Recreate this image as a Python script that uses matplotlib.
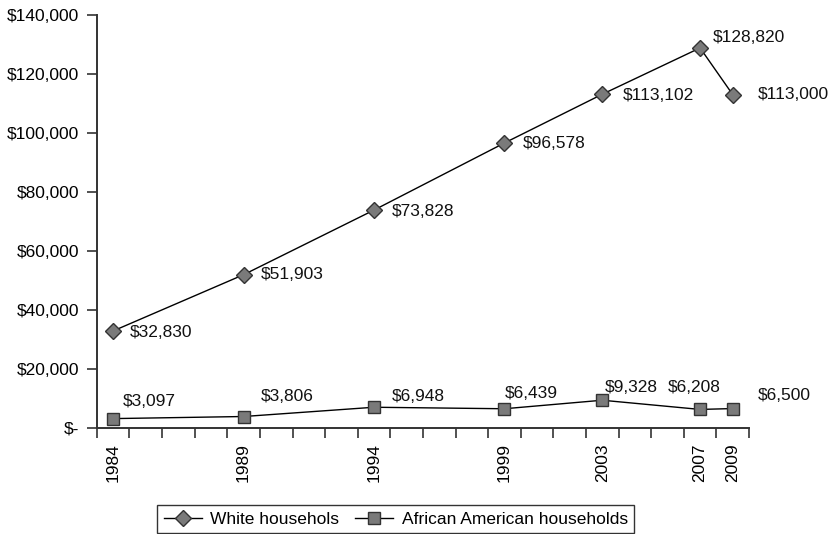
import numpy as np
import matplotlib
matplotlib.use("Agg")
import matplotlib.pyplot as plt
from matplotlib.ticker import FuncFormatter

# category axis (Excel style): blank categories between the survey years
categories = ["1984", "", "", "", "1989", "", "", "", "1994", "", "", "",
              "1999", "", "", "2003", "", "", "2007", "2009"]
years = ["1984", "1989", "1994", "1999", "2003", "2007", "2009"]
white = [32830, 51903, 73828, 96578, 113102, 128820, 113000]
black = [3097, 3806, 6948, 6439, 9328, 6208, 6500]
white_labels = ["$32,830", "$51,903", "$73,828", "$96,578", "$113,102", "$128,820", "$113,000"]
black_labels = ["$3,097", "$3,806", "$6,948", "$6,439", "$9,328", "$6,208", "$6,500"]

# label offsets in pixels (left edge of text, vertical centre; + = up)
white_off = [(17, -2), (17, 0), (18, -1), (18, -1), (21, -1), (13, 10), (25, 0)]
black_off = [(10, 17), (17, 20), (18, 11), (0, 15), (3, 13), (-32, 22), (25, 13)]

plt.rcParams["font.family"] = ["Liberation Sans", "DejaVu Sans"]
FS = 12.5

fig = plt.figure(figsize=(8.35, 5.34), dpi=100)
ax = fig.add_axes([0.116, 0.199, 0.781, 0.773])

x = np.array([categories.index(y) for y in years])

ax.plot(x, white, color="black", lw=1.0, marker="D", markersize=8,
        markerfacecolor="#7a7a7a", markeredgecolor="#333333", markeredgewidth=1.0,
        label="White househols")
ax.plot(x, black, color="black", lw=1.0, marker="s", markersize=8.5,
        markerfacecolor="#7a7a7a", markeredgecolor="#333333", markeredgewidth=1.0,
        label="African American households")

for xi, v, t, (dx, dy) in zip(x, white, white_labels, white_off):
    ax.annotate(t, (xi, v), xytext=(dx, dy), textcoords="offset pixels",
                ha="left", va="center", fontsize=FS, color="#111111")
for xi, v, t, (dx, dy) in zip(x, black, black_labels, black_off):
    ax.annotate(t, (xi, v), xytext=(dx, dy), textcoords="offset pixels",
                ha="left", va="center", fontsize=FS, color="#111111")

ax.set_xlim(-0.5, len(categories) - 0.5)
ax.set_ylim(0, 140000)
ax.set_yticks(np.arange(0, 140001, 20000))
ax.yaxis.set_major_formatter(FuncFormatter(lambda v, p: "$-" if v == 0 else f"${v:,.0f}"))

# ticks between categories, labels at data categories
ax.set_xticks(np.arange(-0.5, len(categories)), minor=True)
ax.set_xticks(x)
ax.set_xticklabels(years, rotation=90, fontsize=FS)
ax.tick_params(axis="x", which="major", length=0, pad=11)
ax.tick_params(axis="x", which="minor", length=7, width=1.2, color="#333333")
ax.tick_params(axis="y", length=7, width=1.2, color="#333333", labelsize=FS, pad=6)

for s in ["top", "right"]:
    ax.spines[s].set_visible(False)
for s in ["left", "bottom"]:
    ax.spines[s].set_color("#333333")
    ax.spines[s].set_linewidth(1.4)

leg = fig.legend(loc="center", bbox_to_anchor=(0.474, 0.028), ncol=2, fontsize=FS,
                 frameon=True, fancybox=False, edgecolor="black", handlelength=2.2,
                 columnspacing=0.9, handletextpad=0.5, borderpad=0.35)
leg.get_frame().set_linewidth(1.0)

fig.savefig("out.png", dpi=100)
